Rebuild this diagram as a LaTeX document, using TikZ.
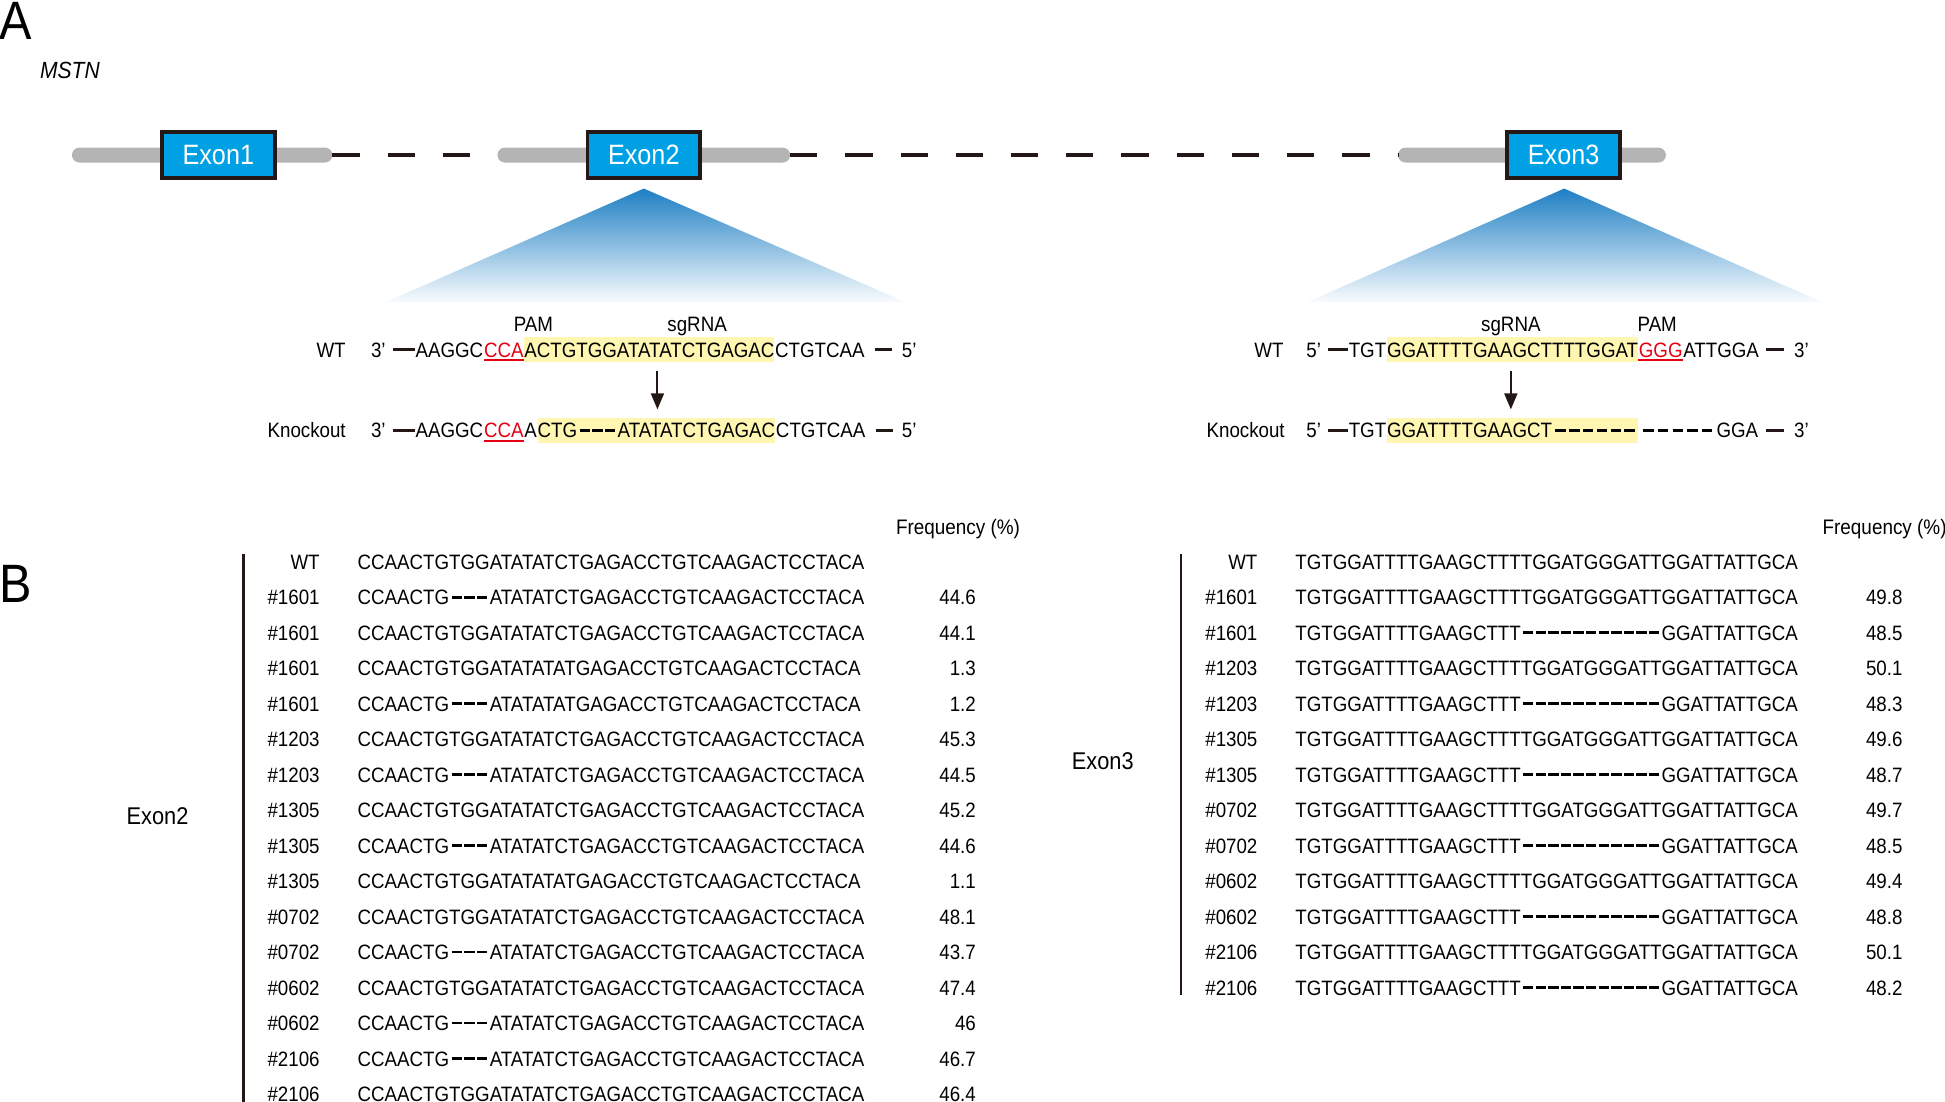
\documentclass[tikz,border=0pt]{standalone}
\usepackage{fontspec}
\setmainfont{Liberation Sans}[FakeStretch=0.9]
\usetikzlibrary{arrows.meta}
\definecolor{exonblue}{RGB}{0,161,228}
\definecolor{bargray}{RGB}{180,180,180}
\definecolor{triblue}{RGB}{30,127,196}
\definecolor{hilite}{RGB}{255,246,178}
\definecolor{pamred}{RGB}{230,0,18}
\definecolor{ink}{RGB}{35,24,21}
\newcommand\fs[1]{\fontsize{#1}{#1}\selectfont}
\newlength\gplen
\newcommand\gpdash{\rule[0.3em]{0.5em}{0.13em}}
\newcommand\dashfill[2]{\settowidth\gplen{#1}\makebox[\gplen]{\foreach \k in {1,...,#2}{\hfill\gpdash}\hfill}}
\newcommand\lWT{CCAACTGTGGATATATCTGAGACCTGTCAAGACTCCTACA}
\newcommand\lDel{CCAACTG\dashfill{TGG}{3}ATATATCTGAGACCTGTCAAGACTCCTACA}
\newcommand\lSub{CCAACTGTGGATATATATGAGACCTGTCAAGACTCCTACA}
\newcommand\lDelSub{CCAACTG\dashfill{TGG}{3}ATATATATGAGACCTGTCAAGACTCCTACA}
\newcommand\rWT{TGTGGATTTTGAAGCTTTTGGATGGGATTGGATTATTGCA}
\newcommand\rDel{TGTGGATTTTGAAGCTTT\dashfill{TGGATGGGATT}{11}GGATTATTGCA}
\tikzset{
  txt/.style={inner sep=0pt, font=\fs{10.4}},
  seq/.style={txt, text height=7.4pt, text depth=0pt, inner ysep=2.5pt, anchor=base west},
  exon/.style={draw=ink, line width=1.8pt, fill=exonblue, text=white, font=\fs{14},
    minimum width=56.4pt, minimum height=23pt, inner sep=0pt},
  intron/.style={draw=ink, line width=2pt, dash pattern=on 13.6pt off 14pt},
  strand/.style={draw=ink, line width=1.6pt},
  arr/.style={draw=ink, line width=1pt, -{Triangle[length=8pt,width=6.5pt]}},
  vline/.style={draw=ink, line width=1.4pt},
  panel/.style={inner sep=0pt, font=\fs{27}, anchor=base west},
  grp/.style={inner sep=0pt, font=\fs{12.1}}
}
\begin{document}
\begin{tikzpicture}[x=0.62pt, y=-0.62pt]
\useasboundingbox (0,0) rectangle (1568,888);
% panel labels
\node[panel] (pA) at (-1,32) {A};
\node[panel] (pB) at (-1,486) {B};
\node[inner sep=0pt, font=\fs{11.7}\itshape, anchor=base west] (mstn) at (32,63) {MSTN};
% gene bars
\fill[bargray, rounded corners=3.7pt] (58,119) rectangle (268,131);
\fill[bargray, rounded corners=3.7pt] (401,119) rectangle (637,131);
\fill[bargray, rounded corners=3.7pt] (1127,119) rectangle (1343,131);
\coordinate (b1e) at (268,125);
\coordinate (b2s) at (401,125);
\coordinate (b2e) at (637,125);
\coordinate (b3s) at (1127,125);
\draw[intron] (b1e) -- (b2s);
\draw[intron] (b2e) -- (b3s);
% triangles
\shade[top color=triblue, bottom color=triblue!2] (519,152) -- (310,244) -- (731,244) -- cycle;
\shade[top color=triblue, bottom color=triblue!2] (1261,152) -- (1053,244) -- (1470,244) -- cycle;
% exons
\node[exon] (e1) at (176,125) {Exon1};
\node[exon] (e2) at (519,125) {Exon2};
\node[exon] (e3) at (1260.5,125) {Exon3};

% ---- left sequence block ----
\node[txt, anchor=base] (pamL) at (430,267) {PAM};
\node[txt, anchor=base] (sgL) at (562,267) {sgRNA};
\node[txt, anchor=base east] (wtL) at (279,288) {WT};
\node[txt, anchor=base] (w3L) at (305,288) {3'};
\node[seq] (l1) at (334.7,288) {AAGGC};
\node[seq, text=pamred] (l2) at (l1.base east) {CCA};
\node[seq, fill=hilite] (l3) at (l2.base east) {ACTGTGGATATATCTGAGAC};
\node[seq] (l4) at (l3.base east) {CTGTCAA};
\node[txt, anchor=base] (w5L) at (733,288) {5'};
\draw[strand] ([xshift=-11pt]l1.west) -- (l1.west);
\draw[strand] ([xshift=5pt]l4.east) -- ([xshift=13.6pt]l4.east);
\draw[pamred, line width=1pt] ([yshift=-1.5pt]l2.base west) -- ([yshift=-1.5pt]l2.base east);

\node[txt, anchor=base east] (koL) at (279,353) {Knockout};
\node[txt, anchor=base] (k3L) at (305,353) {3'};
\node[seq] (k1) at (334.7,353) {AAGGC};
\node[seq, text=pamred] (k2) at (k1.base east) {CCA};
\node[seq] (k3) at (k2.base east) {A};
\node[seq, fill=hilite] (k4) at (k3.base east) {CTG\dashfill{TGG}{3}ATATATCTGAGAC};
\node[seq] (k5) at (k4.base east) {CTGTCAA};
\node[txt, anchor=base] (k5L) at (733,353) {5'};
\draw[strand] ([xshift=-11pt]k1.west) -- (k1.west);
\draw[strand] ([xshift=5pt]k5.east) -- ([xshift=13.6pt]k5.east);
\draw[pamred, line width=1pt] ([yshift=-1.5pt]k2.base west) -- ([yshift=-1.5pt]k2.base east);
\coordinate (aL1) at (530,299);
\coordinate (aL2) at (530,330);
\draw[arr] (aL1) -- (aL2);

% ---- right sequence block ----
\node[txt, anchor=base] (sgR) at (1218,267) {sgRNA};
\node[txt, anchor=base] (pamR) at (1336,267) {PAM};
\node[txt, anchor=base east] (wtR) at (1035,288) {WT};
\node[txt, anchor=base] (w5R) at (1059,288) {5'};
\node[seq] (r1) at (1087,288) {TGT};
\node[seq, fill=hilite] (r2) at (r1.base east) {GGATTTTGAAGCTTTTGGAT};
\node[seq, text=pamred] (r3) at (r2.base east) {GGG};
\node[seq] (r4) at (r3.base east) {ATTGGA};
\node[txt, anchor=base west] (w3R) at (1446,288) {3'};
\draw[strand] ([xshift=-10pt]r1.west) -- (r1.west);
\draw[strand] ([xshift=3.5pt]r4.east) -- ([xshift=12.5pt]r4.east);
\draw[pamred, line width=1pt] ([yshift=-1.5pt]r3.base west) -- ([yshift=-1.5pt]r3.base east);

\node[txt, anchor=base east] (koR) at (1036,353) {Knockout};
\node[txt, anchor=base] (k5R) at (1059,353) {5'};
\node[seq] (s1) at (1087,353) {TGT};
\node[seq, fill=hilite] (s2) at (s1.base east) {GGATTTTGAAGCT\dashfill{TTTGGAT}{6}};
\node[seq] (s3) at (s2.base east) {\dashfill{GGGATT}{5}GGA};
\node[txt, anchor=base west] (k3R) at (1446,353) {3'};
\draw[strand] ([xshift=-10pt]s1.west) -- (s1.west);
\draw[strand] ([xshift=3.5pt]s3.east) -- ([xshift=12.5pt]s3.east);
\coordinate (aR1) at (1218,299);
\coordinate (aR2) at (1218,330);
\draw[arr] (aR1) -- (aR2);

% ---- panel B left table ----
\node[txt, font=\fs{10.5}, anchor=base west] (freqL) at (722,431) {Frequency (\%)};
\node[grp] (gL) at (127,658) {Exon2};
\coordinate (vL1) at (196,447);
\coordinate (vL2) at (196,892);
\draw[vline] (vL1) -- (vL2);
\foreach \lab/\sq/\fr [count=\i from 0] in {
  WT/\lWT/{}, \#1601/\lDel/44.6, \#1601/\lWT/44.1, \#1601/\lSub/1.3,
  \#1601/\lDelSub/1.2, \#1203/\lWT/45.3, \#1203/\lDel/44.5, \#1305/\lWT/45.2,
  \#1305/\lDel/44.6, \#1305/\lSub/1.1, \#0702/\lWT/48.1, \#0702/\lDel/43.7,
  \#0602/\lWT/47.4, \#0602/\lDel/46, \#2106/\lDel/46.7, \#2106/\lWT/46.4}{
  \node[txt, anchor=base east] (L\i lab) at (258,{459+28.6*\i}) {\lab};
  \node[txt, anchor=base west] (L\i seq) at (288,{459+28.6*\i}) {\sq};
  \node[txt, anchor=base east] (L\i fr) at (787,{459+28.6*\i}) {\fr};
}

% ---- panel B right table ----
\node[txt, font=\fs{10.5}, anchor=base west] (freqR) at (1469,431) {Frequency (\%)};
\node[grp] (gR) at (889,614) {Exon3};
\coordinate (vR1) at (952,447);
\coordinate (vR2) at (952,802);
\draw[vline] (vR1) -- (vR2);
\foreach \lab/\sq/\fr [count=\i from 0] in {
  WT/\rWT/{}, \#1601/\rWT/49.8, \#1601/\rDel/48.5, \#1203/\rWT/50.1,
  \#1203/\rDel/48.3, \#1305/\rWT/49.6, \#1305/\rDel/48.7, \#0702/\rWT/49.7,
  \#0702/\rDel/48.5, \#0602/\rWT/49.4, \#0602/\rDel/48.8, \#2106/\rWT/50.1,
  \#2106/\rDel/48.2}{
  \node[txt, anchor=base east] (R\i lab) at (1014,{459+28.6*\i}) {\lab};
  \node[txt, anchor=base west] (R\i seq) at (1044,{459+28.6*\i}) {\sq};
  \node[txt, anchor=base east] (R\i fr) at (1534,{459+28.6*\i}) {\fr};
}
\end{tikzpicture}
\end{document}
